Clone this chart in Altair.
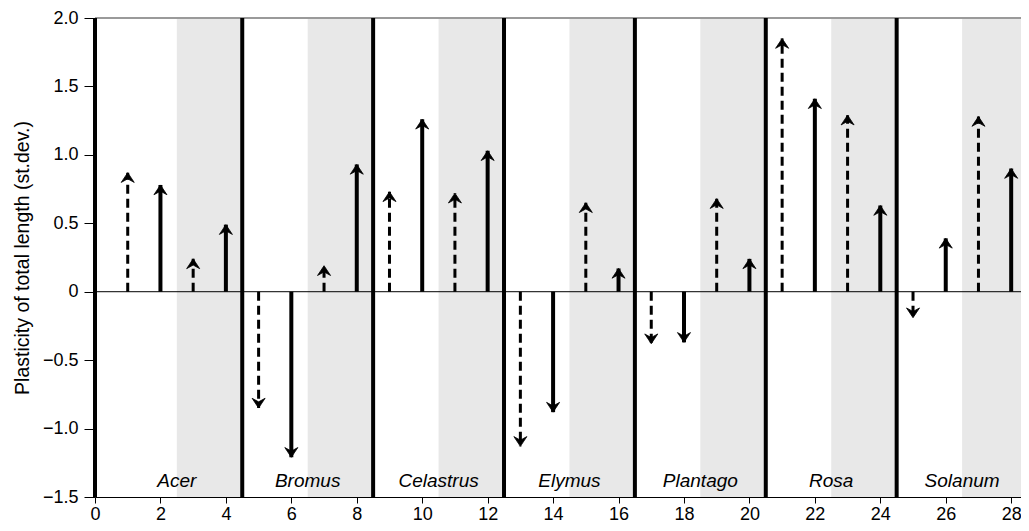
import altair as alt
import pandas as pd

# ---- data ----
genera = ["Acer", "Bromus", "Celastrus", "Elymus", "Plantago", "Rosa", "Solanum"]
positions = list(range(1, 29))
values = [0.87, 0.78, 0.24, 0.49,
          -0.85, -1.21, 0.19, 0.93,
          0.73, 1.26, 0.72, 1.03,
          -1.13, -0.88, 0.65, 0.17,
          -0.38, -0.37, 0.68, 0.24,
          1.85, 1.41, 1.29, 0.63,
          -0.19, 0.39, 1.28, 0.90]
styles = ["dashed", "solid"] * 14
x_ticks = list(range(0, 29))
y_major = [-1.5, -1.0, -0.5, 0.0, 0.5, 1.0, 1.5, 2.0]
y_minor = [round(-1.5 + 0.1 * i, 1) for i in range(36)]

XMAX = 28.3
YMIN, YMAX = -1.5, 2.0

arrows = pd.DataFrame({
    "pos": positions,
    "value": values,
    "style": styles,
    "zero": [0.0] * len(positions),
    "dir": ["up" if v >= 0 else "down" for v in values],
})

bands = pd.DataFrame({
    "start": [4 * i + 2.5 for i in range(len(genera))],
    "end": [min(4 * i + 4.5, XMAX) for i in range(len(genera))],
    "lo": [YMIN] * len(genera),
    "hi": [YMAX] * len(genera),
})

dividers = pd.DataFrame({
    "x": [0.0] + [4 * i + 4.5 for i in range(len(genera) - 1)],
    "lo": YMIN,
    "hi": YMAX,
})

labels = pd.DataFrame({
    "genus": genera,
    "center": [4 * i + 2.5 for i in range(len(genera))],
    "y": [-1.385] * len(genera),
})

zero_df = pd.DataFrame({"y": [0.0]})
top_df = pd.DataFrame({"y": [YMAX]})

FONT = "Liberation Sans"
xscale = alt.Scale(domain=[0, XMAX], nice=False, zero=False)
yscale = alt.Scale(domain=[YMIN, YMAX], nice=False, zero=False)

x_axis = alt.Axis(values=x_ticks, labelExpr="datum.value % 2 == 0 ? datum.label : ''",
                  tickSize=6, tickColor="black", domainColor="black", domainWidth=1,
                  labelFontSize=18, labelColor="black", labelFont=FONT, labelPadding=2,
                  grid=False, title=None, labelFlush=False)

band_layer = alt.Chart(bands).mark_rect(color="#e8e8e8").encode(
    x=alt.X("start:Q", scale=xscale, axis=x_axis),
    x2="end:Q",
    y=alt.Y("lo:Q", scale=yscale,
            axis=alt.Axis(values=y_major, tickSize=11, tickColor="black", domain=False,
                          labelExpr="datum.value == 0 ? '0' : format(datum.value, '.1f')",
                          labelFontSize=18, labelColor="black", labelFont=FONT, labelPadding=6,
                          grid=False, title="Plasticity of total length (st.dev.)",
                          titleFont=FONT, titleFontSize=19.5, titleFontWeight="normal",
                          titleColor="black", titlePadding=10)),
    y2="hi:Q",
)

minor_layer = alt.Chart(bands).mark_rect(opacity=0).encode(
    x=alt.X("start:Q", scale=xscale),
    x2="end:Q",
    y=alt.Y("lo:Q", scale=yscale,
            axis=alt.Axis(values=y_minor, tickSize=5, tickColor="black", domain=False,
                          labels=False, grid=False, title=None)),
    y2="hi:Q",
)

zero_layer = alt.Chart(zero_df).mark_rule(color="black", strokeWidth=1).encode(
    y=alt.Y("y:Q", scale=yscale, axis=None),
)

top_layer = alt.Chart(top_df).mark_rule(color="#9a9a9a", strokeWidth=1.8).encode(
    y=alt.Y("y:Q", scale=yscale, axis=None),
)

divider_layer = alt.Chart(dividers).mark_rule(color="black", strokeWidth=4).encode(
    x=alt.X("x:Q", scale=xscale),
    y=alt.Y("lo:Q", scale=yscale, axis=None),
    y2="hi:Q",
)

dashed_layer = alt.Chart(arrows).transform_filter(alt.datum.style == "dashed").mark_rule(
    color="black", strokeWidth=3, strokeDash=[9, 5]).encode(
    x=alt.X("pos:Q", scale=xscale),
    y=alt.Y("zero:Q", scale=yscale, axis=None),
    y2="value:Q",
)

solid_layer = alt.Chart(arrows).transform_filter(alt.datum.style == "solid").mark_rule(
    color="black", strokeWidth=4).encode(
    x=alt.X("pos:Q", scale=xscale),
    y=alt.Y("zero:Q", scale=yscale, axis=None),
    y2="value:Q",
)

UP = "M0,0 L1,1.5 L0,0.95 L-1,1.5 Z"
DOWN = "M0,0 L1,-1.5 L0,-0.95 L-1,-1.5 Z"

head_layer = alt.Chart(arrows).mark_point(filled=True, color="black", opacity=1, size=170,
                                          strokeWidth=0.8, stroke="black").encode(
    x=alt.X("pos:Q", scale=xscale),
    y=alt.Y("value:Q", scale=yscale, axis=None),
    shape=alt.Shape("dir:N", scale=alt.Scale(domain=["up", "down"], range=[UP, DOWN]), legend=None),
)

label_layer = alt.Chart(labels).mark_text(font=FONT, fontSize=19, fontStyle="italic",
                                          color="black", baseline="middle", align="center").encode(
    x=alt.X("center:Q", scale=xscale),
    y=alt.Y("y:Q", scale=yscale, axis=None),
    text="genus:N",
)

chart = alt.layer(
    band_layer, minor_layer, zero_layer, top_layer, label_layer, divider_layer,
    dashed_layer, solid_layer, head_layer
).resolve_axis(y="independent").properties(
    width=926, height=479,
    autosize=alt.AutoSizeParams(type="none"),
    padding={"left": 87, "top": 10, "right": 0, "bottom": 26},
).configure_view(stroke=None)

chart.save("out.html", embed_options={"renderer": "svg", "actions": False})
